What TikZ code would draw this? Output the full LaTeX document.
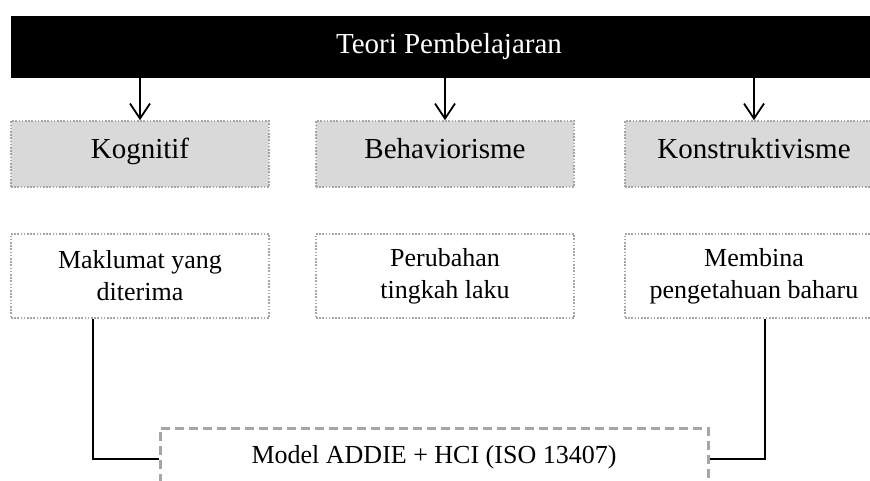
\documentclass[tikz,border=0pt]{standalone}
\usepackage{fontspec}
\setmainfont{Liberation Serif}
\usetikzlibrary{arrows.meta}
\definecolor{boxgray}{HTML}{D9D9D9}
\definecolor{linegray}{HTML}{A6A6A6}
\begin{document}
\begin{tikzpicture}[x=1pt,y=-1pt,
  topbar/.style={fill=black,text=white,minimum width=876pt,minimum height=62pt,inner sep=0pt,text height=19pt,text depth=7pt,font=\fontsize{29}{34}\selectfont},
  theory/.style={fill=boxgray,draw=linegray,line width=1.6pt,dash pattern=on 1.6pt off 1.6pt,minimum width=258pt,minimum height=66pt,inner sep=0pt,text height=19pt,text depth=11pt,font=\fontsize{29}{34}\selectfont},
  idea/.style={fill=white,draw=linegray,line width=1.6pt,dash pattern=on 1.6pt off 1.6pt,minimum width=258pt,minimum height=84pt,inner sep=0pt,align=center,font=\fontsize{26}{32}\selectfont},
  model/.style={draw=linegray,line width=3pt,dash pattern=on 9pt off 5pt,minimum width=548pt,minimum height=62pt,inner sep=0pt,text height=17pt,text depth=9pt,font=\fontsize{26}{32}\selectfont},
  arr/.style={line width=1.8pt,-{Straight Barb[length=15pt,width=20pt,line width=1.8pt]}},
  conn/.style={line width=1.1pt,draw=black}
]
\useasboundingbox (0,0) rectangle (870,480);
\node[topbar] (top) at (449,47) {Teori Pembelajaran};
\node[theory] (k1) at (140,154) {Kognitif};
\node[theory] (k2) at (445,154) {Behaviorisme};
\node[theory] (k3) at (754,154) {Konstruktivisme};
\node[idea] (m1) at (140,276) {Maklumat yang\\diterima};
\node[idea] (m2) at (445,276) {Perubahan\\tingkah laku};
\node[idea] (m3) at (754,276) {Membina\\pengetahuan baharu};
\node[model] (addie) at (434,459) {Model ADDIE + HCI (ISO 13407)};
\coordinate (cl) at (93,459);
\coordinate (cr) at (765,459);
\draw[arr] (top.south -| k1.north) -- (k1.north);
\draw[arr] (top.south -| k2.north) -- (k2.north);
\draw[arr] (top.south -| k3.north) -- (k3.north);
\draw[conn] (m1.south -| cl) |- (addie.west);
\draw[conn] (m3.south -| cr) |- (addie.east);
\end{tikzpicture}
\end{document}
